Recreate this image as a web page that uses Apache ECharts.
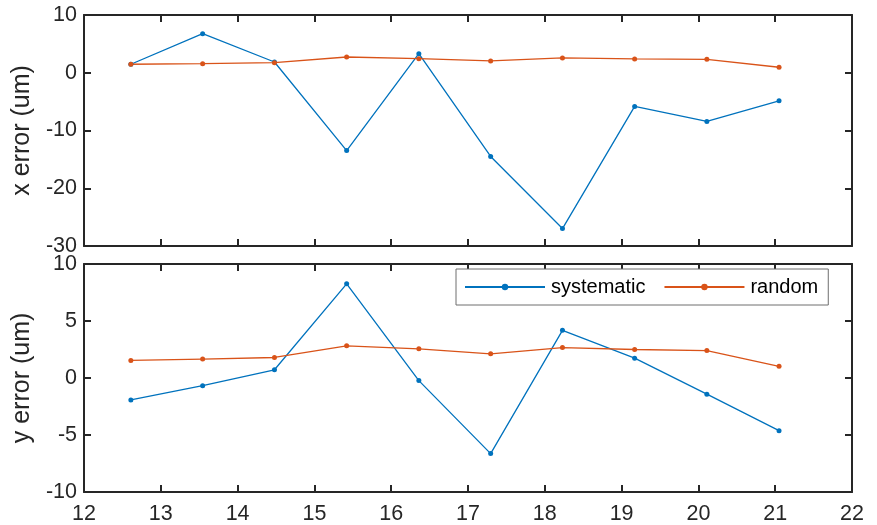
<!DOCTYPE html>
<html>
<head>
<meta charset="utf-8">
<script src="https://cdn.jsdelivr.net/npm/echarts@6/dist/echarts.min.js"></script>
<style>
html,body{margin:0;padding:0;background:#fff;}
#c{width:877px;height:525px;}
</style>
</head>
<body>
<div id="c"></div>
<script>
// Data
const positions = [12.61, 13.545, 14.48, 15.42, 16.36, 17.295, 18.23, 19.17, 20.11, 21.05];
const xSystematic = [1.47, 6.76, 1.86, -13.48, 3.3, -14.5, -26.98, -5.83, -8.42, -4.86];
const xRandom = [1.47, 1.58, 1.75, 2.73, 2.44, 2.04, 2.56, 2.39, 2.33, 0.95];
const ySystematic = [-1.92, -0.67, 0.72, 8.26, -0.23, -6.63, 4.18, 1.74, -1.42, -4.62];
const yRandom = [1.54, 1.66, 1.80, 2.82, 2.56, 2.12, 2.67, 2.50, 2.41, 1.02];
const seriesNames = ['systematic', 'random'];
const topYLabel = 'x error (um)';
const bottomYLabel = 'y error (um)';

const pair = (xs, ys) => xs.map((x, i) => [x, ys[i]]);

const FONT = '"Liberation Sans", Arial, Helvetica, sans-serif';
const AX = '#262626';
const BLUE = '#0072BD';
const ORANGE = '#D95319';

function xAxisDef(grid, pos, showLabels) {
  return {
    type: 'value', gridIndex: grid, position: pos, min: 12, max: 22, interval: 1,
    axisLine: { show: true, onZero: false, lineStyle: { color: AX, width: 2 } },
    axisTick: { show: true, inside: true, length: 7, lineStyle: { color: AX, width: 2 } },
    axisLabel: { show: showLabels, margin: 11, color: AX, fontSize: 21.5, fontFamily: FONT },
    splitLine: { show: false }
  };
}
function yAxisDef(grid, pos, min, max, interval, name, showLabels) {
  return {
    type: 'value', gridIndex: grid, position: pos, min: min, max: max, interval: interval,
    name: name, nameLocation: 'middle', nameGap: 43, nameRotate: 90,
    nameTextStyle: { color: AX, fontSize: 25, fontFamily: FONT },
    axisLine: { show: true, onZero: false, lineStyle: { color: AX, width: 2 } },
    axisTick: { show: true, inside: true, length: 7, lineStyle: { color: AX, width: 2 } },
    axisLabel: { show: showLabels, margin: 7, color: AX, fontSize: 21.5, fontFamily: FONT },
    splitLine: { show: false }
  };
}
function lineSeries(name, color, xi, yi, data) {
  return {
    name: name, type: 'line', xAxisIndex: xi, yAxisIndex: yi, data: data,
    symbol: 'circle', symbolSize: 5, showSymbol: true,
    lineStyle: { color: color, width: 1.3 },
    itemStyle: { color: color },
    emphasis: { disabled: true }
  };
}

const chart = echarts.init(document.getElementById('c'), null, { renderer: 'canvas' });
chart.setOption({
  animation: false,
  backgroundColor: '#fff',
  grid: [
    { left: 84, top: 15, width: 768, height: 231 },
    { left: 84, top: 264, width: 768, height: 229 }
  ],
  xAxis: [
    xAxisDef(0, 'bottom', false),
    xAxisDef(0, 'top', false),
    xAxisDef(1, 'bottom', true),
    xAxisDef(1, 'top', false)
  ],
  yAxis: [
    yAxisDef(0, 'left', -30, 10, 10, topYLabel, true),
    yAxisDef(0, 'right', -30, 10, 10, '', false),
    yAxisDef(1, 'left', -10, 10, 5, bottomYLabel, true),
    yAxisDef(1, 'right', -10, 10, 5, '', false)
  ],
  legend: {
    data: seriesNames,
    left: 456, top: 269,
    orient: 'horizontal',
    itemWidth: 80, itemHeight: 8, itemGap: 18,
    padding: [8, 10, 8, 8],
    backgroundColor: '#fff',
    borderColor: '#6e6e6e', borderWidth: 1, borderRadius: 0,
    textStyle: { color: '#000', fontSize: 20, fontFamily: FONT, padding: [0, 0, 0, 1] }
  },
  series: [
    lineSeries(seriesNames[0], BLUE, 0, 0, pair(positions, xSystematic)),
    lineSeries(seriesNames[1], ORANGE, 0, 0, pair(positions, xRandom)),
    lineSeries(seriesNames[0], BLUE, 2, 2, pair(positions, ySystematic)),
    lineSeries(seriesNames[1], ORANGE, 2, 2, pair(positions, yRandom))
  ]
});
</script>
</body>
</html>
